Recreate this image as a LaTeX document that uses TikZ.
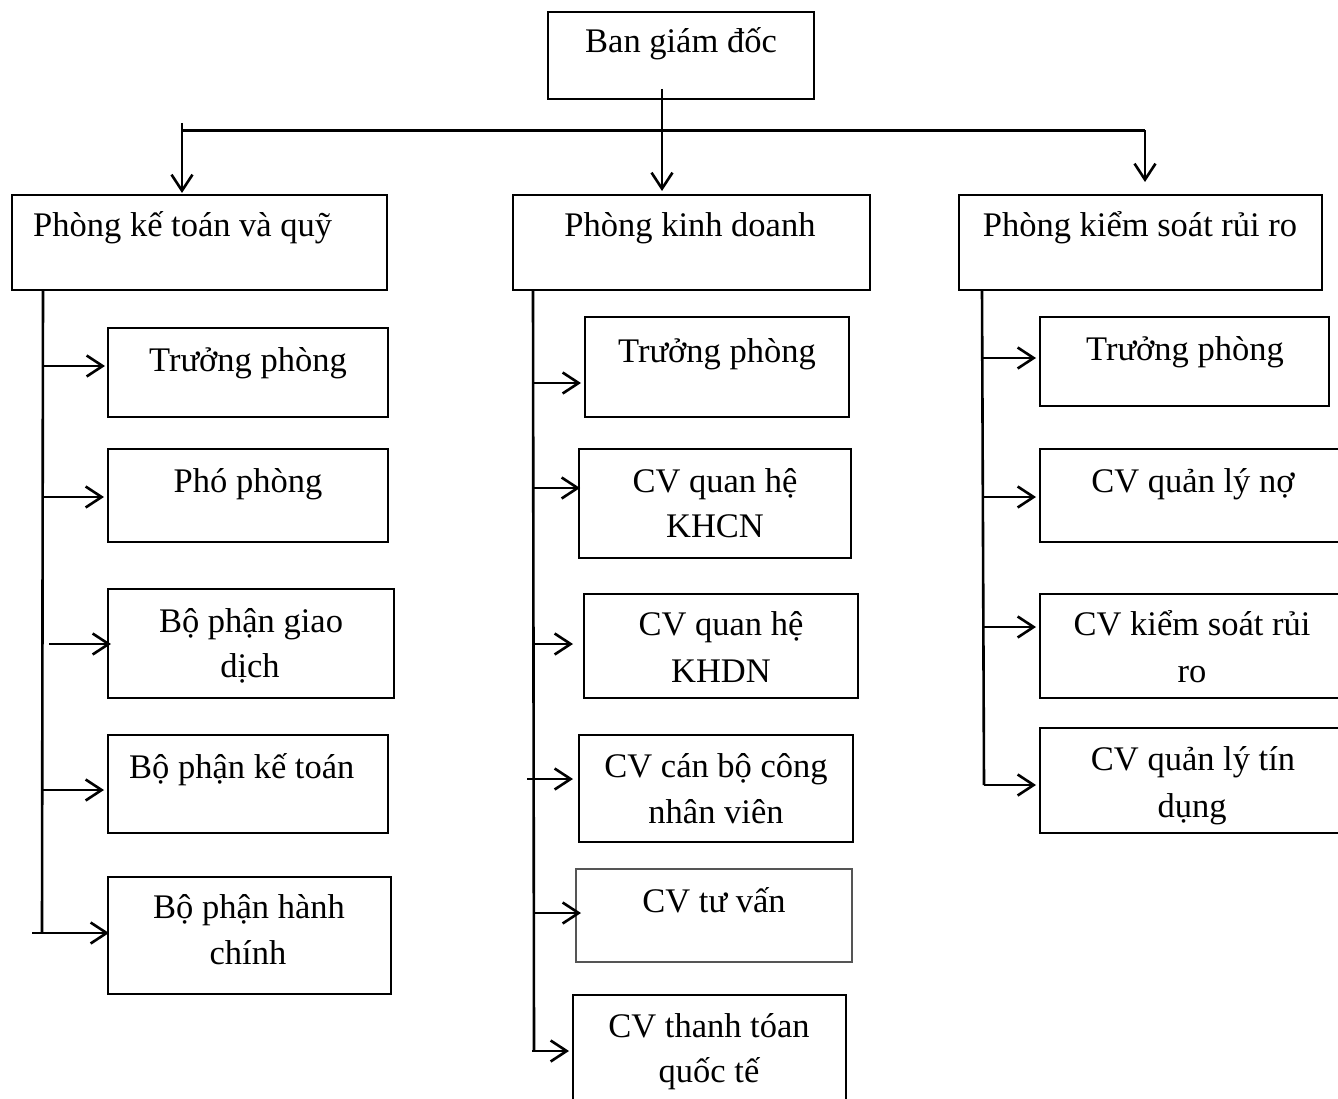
\documentclass[tikz,border=0pt]{standalone}
\usepackage{fontspec}
\setmainfont{Liberation Serif}
\usetikzlibrary{arrows.meta}
\definecolor{tvgray}{RGB}{85,85,85}
\tikzset{
  box/.style={draw=black,line width=2.8pt,inner sep=0pt,outer sep=0pt},
  ln/.style={draw=black,line width=2.6pt},
  arr/.style={-{Straight Barb[length=16pt,width=21pt]}},
  lbl/.style={font=\fontsize{34.5}{45}\selectfont,inner sep=0pt,anchor=base},
}
\newcommand\bx[6][]{\node[box,#1,anchor=north west,minimum width={#5-#3},minimum height={#6-#4}] (#2) at (#3,#4) {};}
\begin{document}
\begin{tikzpicture}[x=1pt,y=-1pt]
\useasboundingbox (0,0) rectangle (1338,1099);
\clip (0,0) rectangle (1338,1099);
\fill[white] (0,0) rectangle (1338,1099);
% boxes
\bx{bgd}{548}{12}{814}{99}
\bx{pkt}{12}{195}{387}{290}
\bx{pkd}{513}{195}{870}{290}
\bx{pks}{959}{195}{1322}{290}
\bx{l1}{108}{328}{388}{417}
\bx{l2}{108}{449}{388}{542}
\bx{l3}{108}{589}{394}{698}
\bx{l4}{108}{735}{388}{833}
\bx{l5}{108}{877}{391}{994}
\bx{m1}{585}{317}{849}{417}
\bx{m2}{579}{449}{851}{558}
\bx{m3}{584}{594}{858}{698}
\bx{m4}{579}{735}{853}{842}
\bx[draw=tvgray,line width=2.5pt]{m5}{576}{869}{852}{962}
\bx{m6}{573}{995}{846}{1110}
\bx{r1}{1040}{317}{1329}{406}
\bx{r2}{1040}{449}{1345}{542}
\bx{r3}{1040}{594}{1345}{698}
\bx{r4}{1040}{728}{1345}{833}
% labels
\node[lbl] (t0) at (681,53) {Ban giám đốc};
\node[lbl,anchor=base west] (t1) at (33,237) {Phòng kế toán và quỹ};
\node[lbl] (t2) at (690,237) {Phòng kinh doanh};
\node[lbl] (t3) at (1140,237) {Phòng kiểm soát rủi ro};
\node[lbl] (tl1) at (248,371) {Trưởng phòng};
\node[lbl] (tl2) at (248,492) {Phó phòng};
\node[lbl] (tl3a) at (251,632) {Bộ phận giao};
\node[lbl] (tl3b) at (250,677) {dịch};
\node[lbl,anchor=base west] (tl4) at (129,778) {Bộ phận kế toán};
\node[lbl] (tl5a) at (249,918) {Bộ phận hành};
\node[lbl] (tl5b) at (248,964) {chính};
\node[lbl] (tm1) at (717,362) {Trưởng phòng};
\node[lbl] (tm2a) at (715,492) {CV quan hệ};
\node[lbl] (tm2b) at (715,537) {KHCN};
\node[lbl] (tm3a) at (721,635) {CV quan hệ};
\node[lbl] (tm3b) at (721,682) {KHDN};
\node[lbl] (tm4a) at (716,777) {CV cán bộ công};
\node[lbl] (tm4b) at (716,823) {nhân viên};
\node[lbl] (tm5) at (714,912) {CV tư vấn};
\node[lbl] (tm6a) at (709,1037) {CV thanh tóan};
\node[lbl] (tm6b) at (709,1082) {quốc tế};
\node[lbl] (tr1) at (1185,360) {Trưởng phòng};
\node[lbl] (tr2) at (1193,492) {CV quản lý nợ};
\node[lbl] (tr3a) at (1192,635) {CV kiểm soát rủi};
\node[lbl] (tr3b) at (1192,682) {ro};
\node[lbl] (tr4a) at (1193,770) {CV quản lý tín};
\node[lbl] (tr4b) at (1192,817) {dụng};
% top connectors
\coordinate (j0) at (662,89);
\coordinate (hL) at (182,130.5);
\coordinate (hR) at (1145,130.5);
\draw[ln,arr,shorten >=4pt] (j0) -- (j0 |- pkd.north);
\draw[ln] (hL) -- (hR);
\draw[ln,arr,shorten >=2pt] (182,123) -- (182,0 |- pkt.north);
\draw[ln,arr,shorten >=13pt] (hR) -- (hR |- pks.north);
% left branch
\draw[ln] (43,0 |- pkt.south) -- (42,933);
\draw[ln,arr,shorten >=3pt] (43,366) -- (43,366 -| l1.west);
\draw[ln,arr,shorten >=4pt] (43,497) -- (43,497 -| l2.west);
\draw[ln,arr,shorten >=-3pt] (49,644) -- (49,644 -| l3.west);
\draw[ln,arr,shorten >=4pt] (42,790) -- (42,790 -| l4.west);
\draw[ln,arr,shorten >=-1pt] (32,933) -- (32,933 -| l5.west);
% middle branch
\draw[ln] (533,0 |- pkd.south) -- (534,1051);
\draw[ln,arr,shorten >=4pt] (533,383) -- (533,383 -| m1.west);
\draw[ln,arr,shorten >=-1pt] (533,488) -- (533,488 -| m2.west);
\draw[ln,arr,shorten >=11pt] (532,644) -- (532,644 -| m3.west);
\draw[ln,arr,shorten >=6pt] (527,779) -- (527,779 -| m4.west);
\draw[ln,arr,shorten >=-5pt] (534,913) -- (534,913 -| m5.west);
\draw[ln,arr,shorten >=4pt] (532,1051) -- (532,1051 -| m6.west);
% right branch
\draw[ln] (982,0 |- pks.south) -- (984,785);
\draw[ln,arr,shorten >=4pt] (982,358) -- (982,358 -| r1.west);
\draw[ln,arr,shorten >=4pt] (983,497) -- (983,497 -| r2.west);
\draw[ln,arr,shorten >=4pt] (983,627) -- (983,627 -| r3.west);
\draw[ln,arr,shorten >=4pt] (984,785) -- (984,785 -| r4.west);
\end{tikzpicture}
\end{document}
